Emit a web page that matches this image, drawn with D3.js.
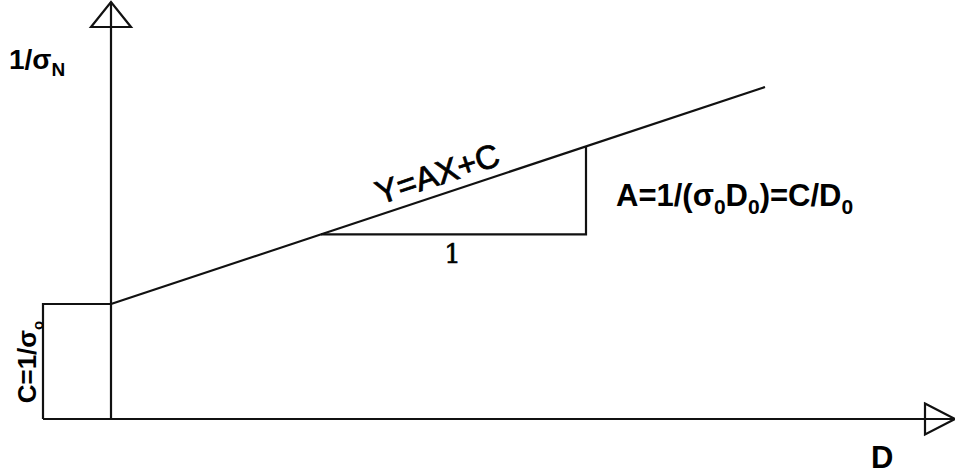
<!DOCTYPE html>
<html>
<head>
<meta charset="utf-8">
<script src="https://cdn.jsdelivr.net/npm/d3@7/dist/d3.min.js"></script>
<style>
  html, body { margin: 0; padding: 0; background: #fff; }
  svg { display: block; }
  text { fill: #000; }
</style>
</head>
<body>
<svg id="chart" width="955" height="475"></svg>
<script>
// Size-effect diagram: 1/sigma_N against D is a straight line Y = AX + C.
const interceptC = 1.15;          // C = 1/sigma_0
const slopeA = 0.3315;            // A = C / D_0

// Straight line (D, 1/sigma_N)
const lineD = [0, 6.54];
const lineY = [1.15, 3.32];

// Slope triangle under the line: run of "1", rise of A
const triD = [2.1, 4.75, 4.75];
const triY = [1.846, 1.846, 2.725];

// Rectangle marking the intercept C at D = 0
const boxD = [-0.68, 0];
const boxY = [0, 1.15];

// Axis extents
const xAxisD = [-0.68, 8.44];
const yAxisY = [0, 4.17];
const xArrowBase = 8.14;
const yArrowBase = 3.92;

const svg = d3.select("#chart");
const x = d3.scaleLinear().domain([0, 8.44]).range([111, 955]);
const y = d3.scaleLinear().domain([0, 4.17]).range([419, 2]);
const ink = "#111";
const sans = "'Liberation Sans', Arial, sans-serif";

const g = svg.append("g")
  .attr("fill", "none")
  .attr("stroke", ink)
  .attr("stroke-width", 2.2)
  .attr("stroke-linejoin", "miter");

const path = d3.line().x(d => x(d[0])).y(d => y(d[1]));

// Intercept rectangle
g.append("path").attr("d", path([
  [boxD[0], boxY[0]], [boxD[0], boxY[1]], [boxD[1], boxY[1]]
]));

// Axes
g.append("path").attr("d", path([[xAxisD[0], 0], [xAxisD[1], 0]]));
g.append("path").attr("d", path([[0, yAxisY[0]], [0, yAxisY[1]]]));

// Open arrowheads
const yHalf = 0.2, xHalf = 0.155;
g.append("path").attr("d", path([
  [-yHalf, yArrowBase], [0, yAxisY[1]], [yHalf, yArrowBase], [-yHalf, yArrowBase]
]) + "Z");
g.append("path").attr("d", path([
  [xArrowBase, xHalf], [xAxisD[1], 0], [xArrowBase, -xHalf], [xArrowBase, xHalf]
]) + "Z");

// Regression line
g.append("path").attr("d", path(lineD.map((d, i) => [d, lineY[i]])));

// Slope triangle (horizontal run and vertical rise)
g.append("path").attr("d", path(triD.map((d, i) => [d, triY[i]])));

// Labels
function subText(sel, parts, size, subSize) {
  parts.forEach(p => {
    const t = sel.append("tspan").text(p.t);
    if (p.sub) t.style("font-size", subSize + "px").attr("dy", size * 0.25);
    else if (p.after) t.attr("dy", -size * 0.25);
  });
}
function label(sel, size, bold) {
  return sel.style("font-family", sans)
    .style("font-size", size + "px")
    .style("font-weight", bold ? "bold" : "normal");
}

// y-axis title 1/sigma_N
const yTitle = label(svg.append("text").attr("x", 9).attr("y", 69), 28, true);
subText(yTitle, [{t: "1/σ"}, {t: "N", sub: true}], 28, 19);

// x-axis title D
label(svg.append("text").attr("x", 871).attr("y", 468), 31, true).text("D");

// Intercept label C=1/sigma_0, written upward
const cLab = label(svg.append("text")
  .attr("transform", "translate(36,362) rotate(-90)")
  .attr("text-anchor", "middle"), 26, true);
subText(cLab, [{t: "C=1/σ"}, {t: "o", sub: true}], 26, 15);

// Slope formula
const aLab = label(svg.append("text").attr("x", 616).attr("y", 206), 31, true);
subText(aLab, [
  {t: "A=1/(σ"}, {t: "0", sub: true}, {t: "D", after: true}, {t: "0", sub: true},
  {t: ")=C/D", after: true}, {t: "0", sub: true}
], 31, 21);

// Equation along the line
const angle = Math.atan2(y(lineY[1]) - y(lineY[0]), x(lineD[1]) - x(lineD[0])) * 180 / Math.PI;
const eqD = 3.3;
label(svg.append("text")
  .attr("transform", `translate(${x(eqD)},${y(interceptC + slopeA * eqD) - 10}) rotate(${angle})`)
  .attr("text-anchor", "middle"), 33, false)
  .attr("stroke", "#000").attr("stroke-width", 0.8)
  .text("Y=AX+C");

// Run label under the triangle
svg.append("text")
  .attr("x", x((triD[0] + triD[1]) / 2) - 1).attr("y", 263)
  .attr("text-anchor", "middle")
  .style("font-family", "'DejaVu Serif', 'Liberation Serif', serif")
  .style("font-size", "26px")
  .attr("stroke", "#000").attr("stroke-width", 0.6)
  .text("1");
</script>
</body>
</html>
